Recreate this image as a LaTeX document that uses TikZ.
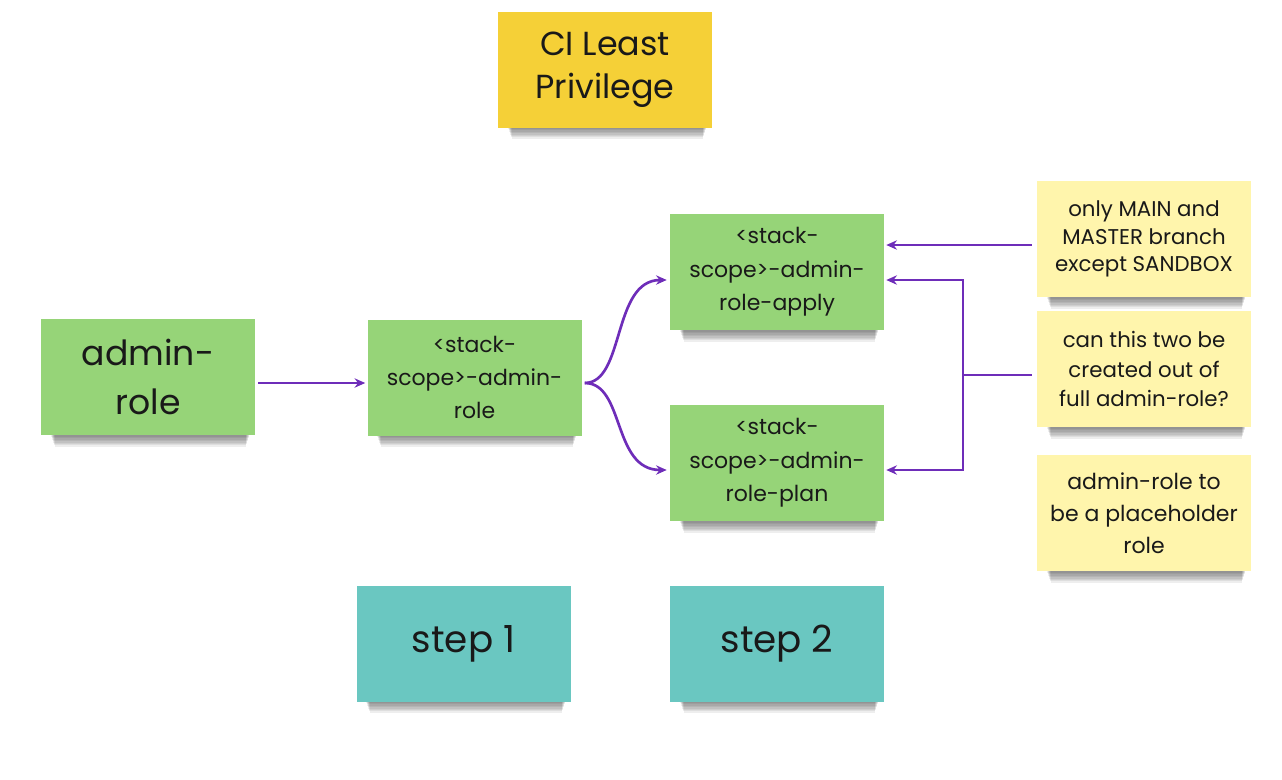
\documentclass[tikz,border=0pt]{standalone}
\usepackage{fontspec}
\setmainfont{Poppins}
\usetikzlibrary{arrows.meta,calc}
\definecolor{titleY}{RGB}{245,208,55}
\definecolor{greenN}{RGB}{150,212,120}
\definecolor{noteY}{RGB}{255,245,172}
\definecolor{tealN}{RGB}{106,199,193}
\definecolor{purp}{RGB}{110,45,185}
\tikzset{
  sticky/.style={minimum width=160.5pt, minimum height=87pt, inner sep=0pt, align=center, text=black!90},
  arr/.style={draw=purp, line width=2pt, -{Stealth[length=8pt,width=7pt]}},
  wire/.style={draw=purp, line width=2pt},
}
\newcommand{\shadowbox}[4]{%
  \foreach \k in {0,...,7}{
    \fill[black, opacity=0.065] (#1+10+\k*0.5, #4-4) rectangle (#3-6-\k*0.5, #4+2+\k*1.4);
  }
}
\begin{document}
\begin{tikzpicture}[x=0.75pt,y=-0.75pt]
\useasboundingbox (0,0) rectangle (1282,779);
% shadows
\shadowbox{498}{12}{712}{127}
\shadowbox{41}{319}{255}{435}
\shadowbox{367}{320}{582}{435}
\shadowbox{670}{214}{884}{330}
\shadowbox{670}{405}{884}{521}
\shadowbox{1037}{181}{1251}{297}
\shadowbox{1037}{311}{1251}{427}
\shadowbox{1037}{455}{1251}{571}
\shadowbox{356}{586}{571}{701}
\shadowbox{670}{586}{884}{701}
% notes
\node[sticky, fill=titleY, font=\fontsize{25}{32}\selectfont] (title) at (605,69.5) {CI Least\\Privilege};
\node[sticky, fill=greenN, font=\fontsize{26}{37}\selectfont] (admin) at (148,377) {admin-\\role};
\node[sticky, fill=greenN, font=\fontsize{16.5}{25}\selectfont] (stack) at (474.5,377.5) {<stack-\\scope>-admin-\\role};
\node[sticky, fill=greenN, font=\fontsize{16.5}{25}\selectfont] (apply) at (777,272) {<stack-\\scope>-admin-\\role-apply};
\node[sticky, fill=greenN, font=\fontsize{16.5}{25}\selectfont] (plan) at (777,463) {<stack-\\scope>-admin-\\role-plan};
\node[sticky, fill=noteY, font=\fontsize{16}{20.5}\selectfont] (n1) at (1144,239) {only MAIN and\\MASTER branch\\except SANDBOX};
\node[sticky, fill=noteY, font=\fontsize{16}{22}\selectfont] (n2) at (1144,369) {can this two be\\created out of\\full admin-role?};
\node[sticky, fill=noteY, font=\fontsize{16.5}{24}\selectfont] (n3) at (1144,513) {admin-role to\\be a placeholder\\role};
\node[sticky, fill=tealN, font=\fontsize{28}{32}\selectfont] (s1) at (463.5,643.5) {step 1};
\node[sticky, fill=tealN, font=\fontsize{28}{32}\selectfont] (s2) at (777,643.5) {step 2};
% connectors
\draw[arr] ($(admin.east)+(3,6)$) -- ($(stack.west)+(-2,5.5)$);
\draw[arr] ($(stack.east)+(3,5.5)$) .. controls (625,383) and (612,280) .. ($(apply.west)+(-3,8)$);
\draw[arr] ($(stack.east)+(3,5.5)$) .. controls (625,383) and (612,470) .. ($(plan.west)+(-3,7)$);
\draw[arr] ($(n1.west)+(-5,6)$) -- ($(apply.east)+(2,-27)$);
\coordinate (j) at (963,375);
\draw[wire] ($(n2.west)+(-5,6)$) -- (j);
\draw[arr] (j) |- ($(apply.east)+(2,8)$);
\draw[arr] (j) |- ($(plan.east)+(2,7)$);
\end{tikzpicture}
\end{document}
